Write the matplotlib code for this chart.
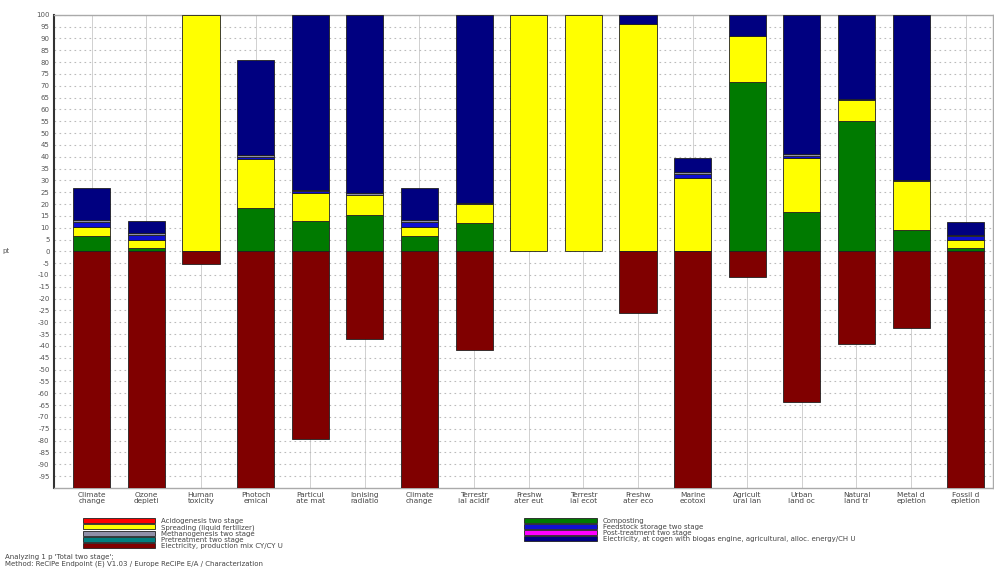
import numpy as np
import matplotlib.pyplot as plt
from matplotlib.patches import Patch

# Impact categories (ReCiPe endpoint, characterization), labels as cut by the tool
categories = ["Climate\nchange", "Ozone\ndepleti", "Human\ntoxicity", "Photoch\nemical",
              "Particul\nate mat", "Ionising\nradiatio", "Climate\nchange", "Terrestr\nial acidif",
              "Freshw\nater eut", "Terrestr\nial ecot", "Freshw\nater eco", "Marine\necotoxi",
              "Agricult\nural lan", "Urban\nland oc", "Natural\nland tr", "Metal d\nepletion",
              "Fossil d\nepletion"]

# contributions in % per process
acidogenesis = [0, 0, 0, 0, 0, 0, 0, 0, 0, 0, 0, 0, 0, 0, 0, 0, 0]
composting   = [6.5, 1.5, 0, 18.5, 13, 15.5, 6.5, 12, 0, 0, 0, 0.3, 71.5, 16.6, 55, 9.2, 1.3]
spreading    = [3.8, 3.5, 100, 20.5, 11.5, 8.5, 3.8, 8, 100, 100, 96, 30.7, 19.5, 23, 9, 20.5, 3.3]
feedstock    = [2.0, 2.0, 0, 1.0, 0.8, 0, 2.0, 0, 0, 0, 0, 1.8, 0, 0.8, 0, 0, 1.8]
methanogen   = [0.8, 0.7, 0, 0.8, 0.7, 0.5, 0.8, 0.6, 0, 0, 0, 0.8, 0, 0.8, 0.6, 0.3, 0.7]
posttreat    = [0, 0, 0, 0, 0, 0, 0, 0, 0, 0, 0, 0, 0, 0, 0, 0, 0]
pretreat     = [0, 0, 0, 0, 0, 0, 0, 0, 0, 0, 0, 0, 0, 0, 0, 0, 0]
elec_cogen   = [13.5, 5.0, 0, 40.2, 74, 75.5, 13.5, 79.4, 0, 0, 4, 5.8, 9, 58.8, 35.4, 70, 5.2]
elec_mix     = [-100, -100, -5.5, -100, -79.5, -37, -100, -41.5, 0, 0, -26, -100, -11, -63.5, -39, -32.5, -100]

names = ["Acidogenesis two stage", "Composting", "Spreading (liquid fertilizer)",
         "Feedstock storage two stage", "Methanogenesis two stage", "Post-treatment two stage",
         "Pretreatment two stage", "Electricity, at cogen with biogas engine, agricultural, alloc. energy/CH U",
         "Electricity, production mix CY/CY U"]
colors = ["#ff0000", "#007a00", "#ffff00", "#1010d0", "#9090a8", "#ff00ff",
          "#008080", "#000080", "#800000"]
series = [acidogenesis, composting, spreading, feedstock, methanogen, posttreat,
          pretreat, elec_cogen, elec_mix]

fig = plt.figure(figsize=(9.95, 5.68), dpi=100)
ax = fig.add_axes([0.054, 0.141, 0.944, 0.833])

x = np.arange(len(categories))
w = 0.68
pos = np.zeros(len(categories))
neg = np.zeros(len(categories))
for vals, col in zip(series, colors):
    v = np.array(vals, dtype=float)
    base = np.where(v >= 0, pos, neg)
    m = v != 0
    ax.bar(x[m], v[m], w, bottom=base[m], color=col, edgecolor="#202020",
           linewidth=0.6, zorder=3)
    pos += np.where(v >= 0, v, 0)
    neg += np.where(v < 0, v, 0)

ax.set_xlim(-0.696, 16.5)
ax.set_ylim(-100, 100)
ax.set_yticks(np.arange(-95, 101, 5))
ax.set_yticklabels([str(t) for t in range(-95, 101, 5)], fontsize=5, color="#555555")
ax.set_xticks(x)
ax.set_xticklabels(categories, fontsize=5.3, color="#444444", linespacing=0.95)
ax.tick_params(axis="both", length=0, pad=3)
ax.yaxis.grid(True, linestyle=(0, (1.5, 3)), color="#bbbbbb", linewidth=0.8, zorder=0)
ax.xaxis.grid(True, linestyle="-", color="#d0d0d0", linewidth=0.7, zorder=0)
ax.set_axisbelow(True)
ax.spines["left"].set_color("#333333")
ax.spines["left"].set_linewidth(1.5)
for s in ["top", "bottom", "right"]:
    ax.spines[s].set_color("#aaaaaa")
    ax.spines[s].set_linewidth(1.0)
ax.set_ylabel("pt", fontsize=5, color="#555555", rotation=0, labelpad=22, va="center")

# legend in two columns below the plot
left_idx = [0, 2, 4, 6, 8]
right_idx = [1, 3, 5, 7]
common = dict(fontsize=5, frameon=False, handlelength=10.4, handleheight=0.75,
              handletextpad=0.9, labelspacing=0.0, borderpad=0, borderaxespad=0)
leg1 = fig.legend([Patch(facecolor=colors[i], edgecolor="#202020", linewidth=0.6) for i in left_idx],
                  [names[i] for i in left_idx], loc="upper left",
                  bbox_to_anchor=(0.083, 0.088), **common)
leg2 = fig.legend([Patch(facecolor=colors[i], edgecolor="#202020", linewidth=0.6) for i in right_idx],
                  [names[i] for i in right_idx], loc="upper left",
                  bbox_to_anchor=(0.527, 0.088), **common)
for leg in (leg1, leg2):
    for t in leg.get_texts():
        t.set_color("#444444")

fig.text(0.005, 0.016, "Analyzing 1 p 'Total two stage';", fontsize=5, color="#444444")
fig.text(0.005, 0.004, "Method: ReCiPe Endpoint (E) V1.03 / Europe ReCiPe E/A / Characterization",
         fontsize=5, color="#444444")

fig.savefig("out.png", dpi=100)
